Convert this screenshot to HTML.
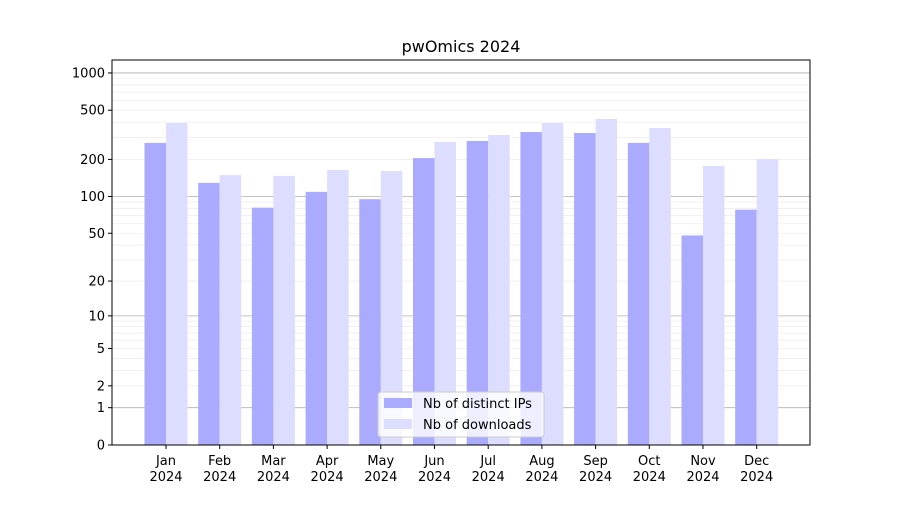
<!DOCTYPE html>
<html><head><meta charset="utf-8"><style>
body{margin:0;background:#fff;font-family:"Liberation Sans","DejaVu Sans",sans-serif}
</style></head><body>
<svg id="chart" width="900" height="500" xmlns="http://www.w3.org/2000/svg" font-family="DejaVu Sans, Liberation Sans, sans-serif">
<rect width="900" height="500" fill="#fff"/>
<g id="grid"></g><g id="bars"></g><g id="axes"></g>
</svg>
<script>
const months=["Jan","Feb","Mar","Apr","May","Jun","Jul","Aug","Sep","Oct","Nov","Dec"];
const ips=[272,129,81,109,95,205,282,333,327,272,48,78];
const downloads=[394,149,147,164,161,277,315,394,425,359,177,201];
const yTicks=[0,1,2,5,10,20,50,100,200,500,1000];
const L=112,R=810,T=60,B=445;
const NS="http://www.w3.org/2000/svg";
function y(v){return B-124*Math.log10(1+v);}
function xc(i){return 166+i*53.7;}
function el(t,a,p,txt){const e=document.createElementNS(NS,t);for(const k in a)e.setAttribute(k,a[k]);if(txt!==undefined)e.textContent=txt;document.getElementById(p).appendChild(e);return e;}
// grid
const minors=[];
for(let d=1;d<=1000;d*=10)for(let m=1;m<10;m++){const v=d*m;if(v<1300)minors.push(v);}
minors.forEach(v=>{const g=el('line',{x1:L,x2:R,y1:y(v),y2:y(v),stroke:(Math.log10(v)%1===0)?'#b0b0b0':'#e8e8e8','stroke-width':(Math.log10(v)%1===0)?0.8:0.6},'grid');

});
const w=21.5;
months.forEach((m,i)=>{
 const a=el('rect',{x:xc(i)-w,y:y(ips[i]),width:w,height:B-y(ips[i]),fill:'#aaaaff'},'bars');
 
 
 const b=el('rect',{x:xc(i),y:y(downloads[i]),width:w,height:B-y(downloads[i]),fill:'#ddddff'},'bars');
 
 
 el('line',{x1:xc(i),x2:xc(i),y1:B,y2:B+4,stroke:'#000'},'axes');
 const t=el('text',{x:xc(i),y:B+20,'text-anchor':'middle','font-size':13},'axes',m);
 
 
 el('text',{x:xc(i),y:B+36,'text-anchor':'middle','font-size':13},'axes','2024');
});
yTicks.forEach(v=>{
 el('line',{x1:L-4,x2:L,y1:y(v),y2:y(v),stroke:'#000'},'axes');
 const t=el('text',{x:L-7,y:y(v)+4.5,'text-anchor':'end','font-size':13},'axes',String(v));
 
 
});
const f=el('rect',{x:L,y:T,width:R-L,height:B-T,fill:'none',stroke:'#000','stroke-width':1},'axes');


const ti=el('text',{x:(L+R)/2,y:52,'text-anchor':'middle','font-size':16},'axes','pwOmics 2024');


const lg=el('rect',{x:378,y:392,width:166,height:45,fill:'#fff','fill-opacity':0.8,stroke:'#ccc',rx:3},'axes');


el('rect',{x:384,y:398,width:28,height:10,fill:'#aaaaff'},'axes');
el('rect',{x:384,y:419,width:28,height:10,fill:'#ddddff'},'axes');
const l1=el('text',{x:423,y:408,'font-size':13},'axes','Nb of distinct IPs');


const l2=el('text',{x:423,y:429,'font-size':13},'axes','Nb of downloads');


</script>
</body></html>
